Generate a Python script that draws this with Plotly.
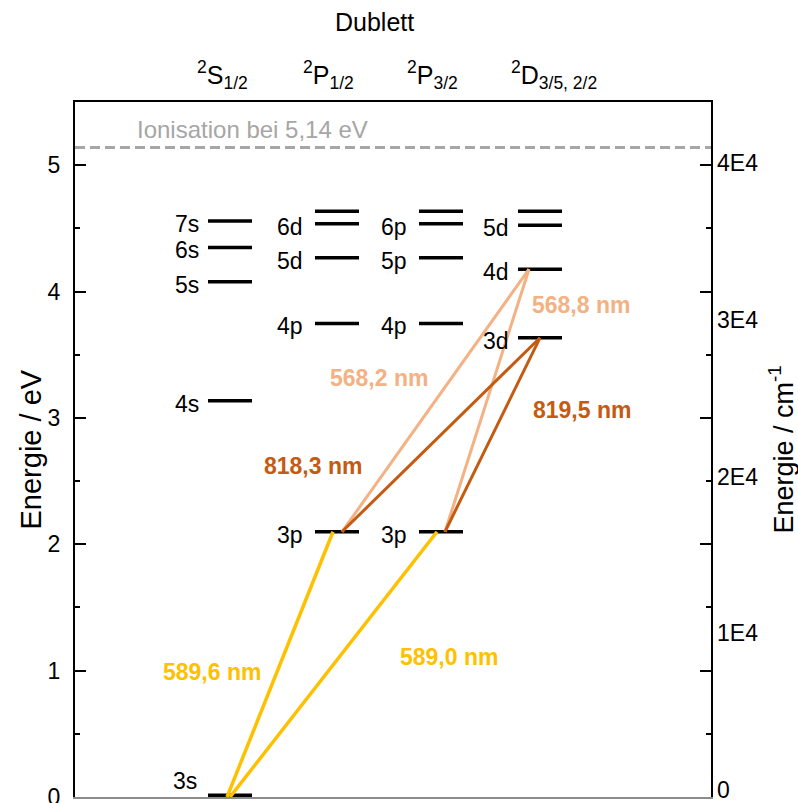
import plotly.graph_objects as go

# Term columns of the sodium doublet system
column_titles = ["<sup>2</sup>S<sub>1/2</sub>", "<sup>2</sup>P<sub>1/2</sub>",
                 "<sup>2</sup>P<sub>3/2</sub>", "<sup>2</sup>D<sub>3/5, 2/2</sub>"]

# Level names and energies (eV) for each column
s_names = ["3s", "4s", "5s", "6s", "7s"]
s_energy = [0.0, 3.135, 4.077, 4.349, 4.559]
p12_names = ["3p", "4p", "5d", "6d", ""]
p12_energy = [2.099, 3.748, 4.267, 4.536, 4.636]
p32_names = ["3p", "4p", "5p", "6p", ""]
p32_energy = [2.099, 3.748, 4.267, 4.536, 4.636]
d_names = ["3d", "4d", "5d", ""]
d_energy = [3.634, 4.177, 4.525, 4.636]

# Transitions: (column, level) -> (column, level) with wavelength labels
trans_from_col = [0, 0, 1, 2, 1, 2]
trans_from_lvl = ["3s", "3s", "3p", "3p", "3p", "3p"]
trans_to_col = [1, 2, 3, 3, 3, 3]
trans_to_lvl = ["3p", "3p", "3d", "3d", "4d", "4d"]
trans_labels = ["589,6 nm", "589,0 nm", "818,3 nm", "819,5 nm", "568,2 nm", "568,8 nm"]

ionisation_ev = 5.14
ionisation_text = "Ionisation bei 5,14 eV"

EV_TO_CM = 8065.54
right_tickvals = [0, 10000, 20000, 30000, 40000]
right_ticktext = ["0", "1E4", "2E4", "3E4", "4E4"]

# ---------------------------------------------------------------- layout helpers
FONT = "Arial, Liberation Sans, sans-serif"
Y_MAX = 5.5
X_MAX = 6.36
col_center = [1.55, 2.62, 3.66, 4.65]
half_w = 0.22
label_gap = [0.07, 0.10, 0.10, 0.07]

columns = [
    (s_names, s_energy),
    (p12_names, p12_energy),
    (p32_names, p32_energy),
    (d_names, d_energy),
]

YELLOW = "#FFC000"
DARK = "#C55A11"
LIGHT = "#F4B183"
trans_color = [YELLOW, YELLOW, DARK, DARK, LIGHT, LIGHT]
trans_width = [3.5, 3.5, 3, 3, 3, 3]
# where along each level bar a transition line starts / ends
from_dx = [-0.03, 0.0, 0.05, 0.04, 0.05, 0.04]
to_dx = [-0.04, -0.04, 0.0, 0.0, -0.11, -0.11]
label_pos = [(1.37, 0.99), (3.74, 1.107), (2.38, 2.62),
             (5.07, 3.06), (3.04, 3.316), (5.06, 3.894)]


def level_energy(col, name):
    names, energies = columns[col]
    return energies[names.index(name)]


def paper_y(px):
    # vertical pixel position -> paper fraction of the plot area (102..797 px)
    return (797 - px) / 695.0


fig = go.Figure()

# ionisation limit, drawn against the wavenumber axis
fig.add_trace(go.Scatter(
    x=[0, X_MAX], y=[ionisation_ev * EV_TO_CM] * 2, mode="lines",
    xaxis="x2", yaxis="y2",
    line=dict(color="#A6A6A6", width=2.8, dash="10px,5px"),
    hoverinfo="skip", showlegend=False))

# energy level bars
lx, ly = [], []
for ci, (names, energies) in enumerate(columns):
    for e in energies:
        if e == 0:
            continue
        lx += [col_center[ci] - half_w, col_center[ci] + half_w, None]
        ly += [e, e, None]
fig.add_trace(go.Scatter(x=lx, y=ly, mode="lines",
                         line=dict(color="black", width=3.5),
                         hoverinfo="skip", showlegend=False))
# ground state bar sits on the axis
fig.add_trace(go.Scatter(x=[col_center[0] - half_w, col_center[0] + half_w],
                         y=[s_energy[0], s_energy[0]], mode="lines",
                         line=dict(color="black", width=7),
                         hoverinfo="skip", showlegend=False))

# transitions (yellow first, then light, then dark)
for i in [0, 1, 4, 5, 2, 3]:
    y0 = level_energy(trans_from_col[i], trans_from_lvl[i])
    y1 = level_energy(trans_to_col[i], trans_to_lvl[i])
    x0 = col_center[trans_from_col[i]] + from_dx[i]
    x1 = col_center[trans_to_col[i]] + to_dx[i]
    fig.add_trace(go.Scatter(x=[x0, x1], y=[y0, y1], mode="lines",
                             line=dict(color=trans_color[i], width=trans_width[i]),
                             hoverinfo="skip", showlegend=False))

ann = []
# level labels
for ci, (names, energies) in enumerate(columns):
    for n, e in zip(names, energies):
        if not n:
            continue
        ground = (e == 0)
        ann.append(dict(
            x=col_center[ci] - half_w - (0.09 if ground else label_gap[ci]),
            y=e, text=n, showarrow=False, xanchor="right", yanchor="middle",
            yshift=16 if ground else -3,
            font=dict(family=FONT, size=23, color="black")))

# transition labels
for i, t in enumerate(trans_labels):
    ann.append(dict(x=label_pos[i][0], y=label_pos[i][1], text="<b>" + t + "</b>",
                    showarrow=False, xanchor="center", yanchor="middle",
                    font=dict(family=FONT, size=23, color=trans_color[i])))

# ionisation label
ann.append(dict(x=0.6, y=5.279, text=ionisation_text, showarrow=False, xanchor="left",
                yanchor="middle", font=dict(family=FONT, size=24, color="#A6A6A6")))

# headers
ann.append(dict(x=2.99, yref="paper", y=paper_y(22), text="Dublett", showarrow=False,
                xanchor="center", yanchor="middle",
                font=dict(family=FONT, size=25, color="black")))
for xc, t in zip([1.47, 2.53, 3.57, 4.79], column_titles):
    ann.append(dict(x=xc, yref="paper", y=paper_y(75), text=t, showarrow=False,
                    xanchor="center", yanchor="middle",
                    font=dict(family=FONT, size=25, color="black")))

# axis titles
ann.append(dict(xref="paper", yref="paper", x=(30 - 75) / 636.0, y=0.5,
                text="Energie / eV", textangle=-90, showarrow=False,
                xanchor="center", yanchor="middle",
                font=dict(family=FONT, size=29, color="black")))
ann.append(dict(xref="paper", yref="paper", x=(781 - 75) / 636.0, y=0.5,
                text="Energie / cm<sup>-1</sup>", textangle=-90, showarrow=False,
                xanchor="center", yanchor="middle",
                font=dict(family=FONT, size=27, color="black")))

fig.update_layout(
    width=798, height=803,
    margin=dict(l=75, r=87, t=102, b=6, autoexpand=False),
    paper_bgcolor="white", plot_bgcolor="white",
    showlegend=False,
    annotations=ann,
    xaxis=dict(range=[0, X_MAX], showline=True, linecolor="#8c8c8c", linewidth=1.5,
               showticklabels=False, ticks="", showgrid=False, zeroline=False,
               automargin=False),
    xaxis2=dict(range=[0, X_MAX], overlaying="x", side="top", showline=True,
                linecolor="black", linewidth=2, showticklabels=False, ticks="",
                showgrid=False, zeroline=False, automargin=False),
    yaxis=dict(range=[0, Y_MAX], tickvals=[0, 1, 2, 3, 4, 5], ticks="inside",
               ticklen=11, tickwidth=2, tickcolor="black",
               showline=True, linecolor="black", linewidth=2, mirror="ticks",
               minor=dict(tickvals=[0.5, 1.5, 2.5, 3.5, 4.5], ticks="inside",
                          ticklen=5, tickwidth=2, tickcolor="black", showgrid=False),
               showgrid=False, zeroline=False, ticklabelstandoff=8,
               ticklabeloverflow="allow", automargin=False,
               tickfont=dict(family=FONT, size=23, color="black")),
    yaxis2=dict(range=[0, Y_MAX * EV_TO_CM], overlaying="y", side="right",
                tickvals=right_tickvals, ticktext=right_ticktext, ticks="",
                showline=False, showgrid=False, zeroline=False, ticklabelstandoff=5,
                ticklabelshift=-7, ticklabeloverflow="allow", automargin=False,
                tickfont=dict(family=FONT, size=23, color="black")),
)

fig.write_html("out.html")
